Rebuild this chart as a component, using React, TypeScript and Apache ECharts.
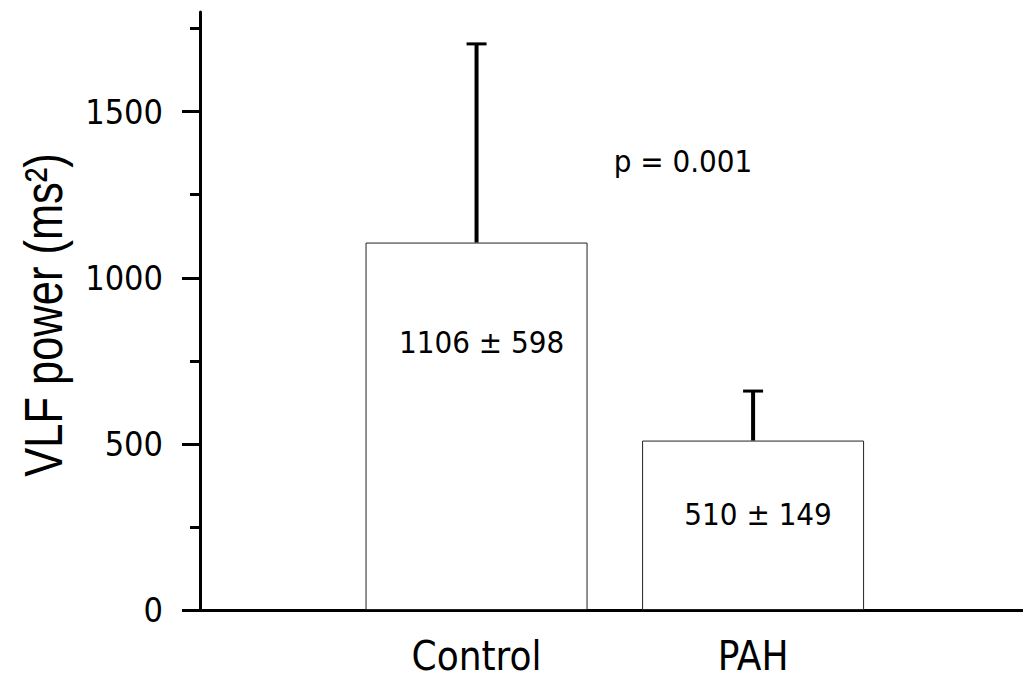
import React, { useEffect, useRef } from "react";
import * as echarts from "echarts";

// ---- data ----
const categories = ["Control", "PAH"];
const means = [1106, 510];
const sds = [598, 149];
const yMajorTicks = [0, 500, 1000, 1500];
const yMinorTicks = [250, 750, 1250, 1750];
const yAxisTitle = "VLF power (ms²)";
const pValueText = "p = 0.001";

const COND = "'DejaVu Sans Condensed', 'DejaVu Sans', sans-serif";
const ARIAL = "'Liberation Sans', Arial, sans-serif";

export default function App() {
  const ref = useRef<HTMLDivElement>(null);

  useEffect(() => {
    if (!ref.current) return;
    const chart = echarts.init(ref.current, undefined, { renderer: "svg" });

    const barData = categories.map((c, i) => [i + 1, means[i]]);
    const errData = categories.map((c, i) => [i + 1, means[i], sds[i]]);
    const labelDrop = [99, 73];

    const option: any = {
      animation: false,
      backgroundColor: "#fff",
      grid: { left: 200, right: 0, top: 12, bottom: 70, containLabel: false },
      xAxis: {
        type: "value",
        min: 0,
        max: 2.976,
        axisLine: { show: true, lineStyle: { color: "#000", width: 3 } },
        axisTick: { show: false },
        splitLine: { show: false },
        axisLabel: {
          customValues: categories.map((c, i) => i + 1),
          formatter: (v: number) => categories[Math.round(v) - 1] ?? "",
          fontSize: 40,
          fontFamily: COND,
          color: "#000",
          margin: 26,
        },
      },
      yAxis: [
        {
          type: "value",
          min: 0,
          max: 1800,
          position: "left",
          axisLine: { show: true, lineStyle: { color: "#000", width: 3 } },
          axisTick: {
            show: true,
            customValues: yMajorTicks,
            length: 18,
            lineStyle: { color: "#000", width: 3 },
          },
          axisLabel: {
            customValues: yMajorTicks,
            formatter: (v: number) => String(v),
            fontSize: 34,
            fontFamily: COND,
            color: "#000",
            margin: 37,
          },
          splitLine: { show: false },
        },
        {
          type: "value",
          min: 0,
          max: 1800,
          position: "left",
          axisLine: { show: false },
          axisTick: {
            show: true,
            customValues: yMinorTicks,
            length: 10,
            lineStyle: { color: "#000", width: 3 },
          },
          axisLabel: { show: false },
          splitLine: { show: false },
        },
      ],
      series: [
        {
          type: "bar",
          data: barData,
          barWidth: 222,
          itemStyle: { color: "#fff", borderColor: "#222", borderWidth: 1 },
          z: 2,
        },
        {
          type: "custom",
          data: errData,
          z: 3,
          renderItem: (params: any, api: any) => {
            const x = api.value(0);
            const m = api.value(1);
            const s = api.value(2);
            const base = api.coord([x, m]);
            const top = api.coord([x, m + s]);
            return {
              type: "group",
              children: [
                {
                  type: "line",
                  shape: { x1: base[0], y1: base[1], x2: top[0], y2: top[1] },
                  style: { stroke: "#000", lineWidth: 4 },
                },
                {
                  type: "line",
                  shape: { x1: top[0] - 10, y1: top[1], x2: top[0] + 10, y2: top[1] },
                  style: { stroke: "#000", lineWidth: 3 },
                },
                {
                  type: "text",
                  x: base[0] + 5,
                  y: base[1] + labelDrop[params.dataIndex],
                  style: {
                    text: `${m} ± ${s}`,
                    fontSize: 31,
                    fontFamily: COND,
                    fill: "#000",
                    align: "center",
                    verticalAlign: "middle",
                  },
                },
              ],
            };
          },
        },
      ],
      graphic: [
        {
          type: "text",
          x: 683,
          y: 161,
          style: {
            text: pValueText,
            fontSize: 31,
            fontFamily: COND,
            fill: "#000",
            align: "center",
            verticalAlign: "middle",
          },
        },
        {
          type: "text",
          x: 43,
          y: 315,
          rotation: Math.PI / 2,
          scaleX: 0.82,
          style: {
            text: yAxisTitle,
            fontSize: 53,
            fontFamily: ARIAL,
            fill: "#000",
            align: "center",
            verticalAlign: "middle",
          },
        },
      ],
    };

    chart.setOption(option);
    return () => chart.dispose();
  }, []);

  return (
    <div
      ref={ref}
      style={{ position: "fixed", left: 0, top: 0, width: 1023, height: 680, background: "#fff" }}
    />
  );
}
